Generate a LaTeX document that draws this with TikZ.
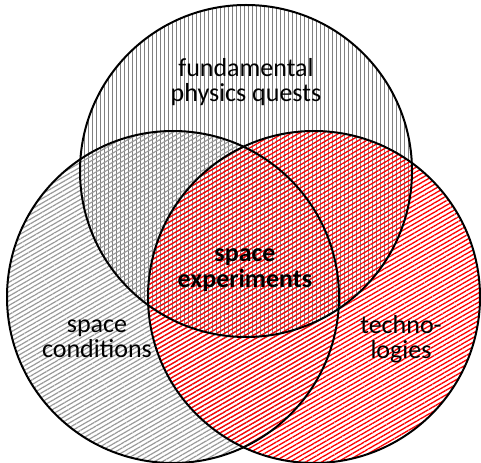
\documentclass[tikz,border=0pt]{standalone}
\usepackage{fontspec}
\setmainfont{Carlito}
\usetikzlibrary{patterns.meta}
\tikzset{set/.style={line width=1.5pt},
  lbl/.style={align=center,font=\fontsize{19.5}{19}\selectfont}}
\begin{document}
\begin{tikzpicture}[x=0.75pt,y=-0.75pt]
\useasboundingbox (0,0) rectangle (481,463);
\fill[pattern={Lines[angle=90,distance=3pt,line width=0.7pt]},pattern color=gray] (246,171) circle (166);
\fill[pattern={Lines[angle=30,distance=3pt,line width=0.9pt]},pattern color=gray!80] (173,297) circle (166);
\fill[pattern={Lines[angle=30,distance=3pt,line width=1pt]},pattern color=red] (314,297) circle (166);
\draw[set] (246,171) circle (166);
\draw[set] (173,297) circle (166);
\draw[set] (314,297) circle (166);
\node[lbl] (phys) at (246,82) {fundamental\\physics quests};
\node[lbl] (cond) at (97,339) {space\\conditions};
\node[lbl] (tech) at (401,339) {techno-\\logies};
\node[lbl,font=\fontsize{19.5}{19}\selectfont\bfseries] (exp) at (245,270) {space\\experiments};
\end{tikzpicture}
\end{document}
